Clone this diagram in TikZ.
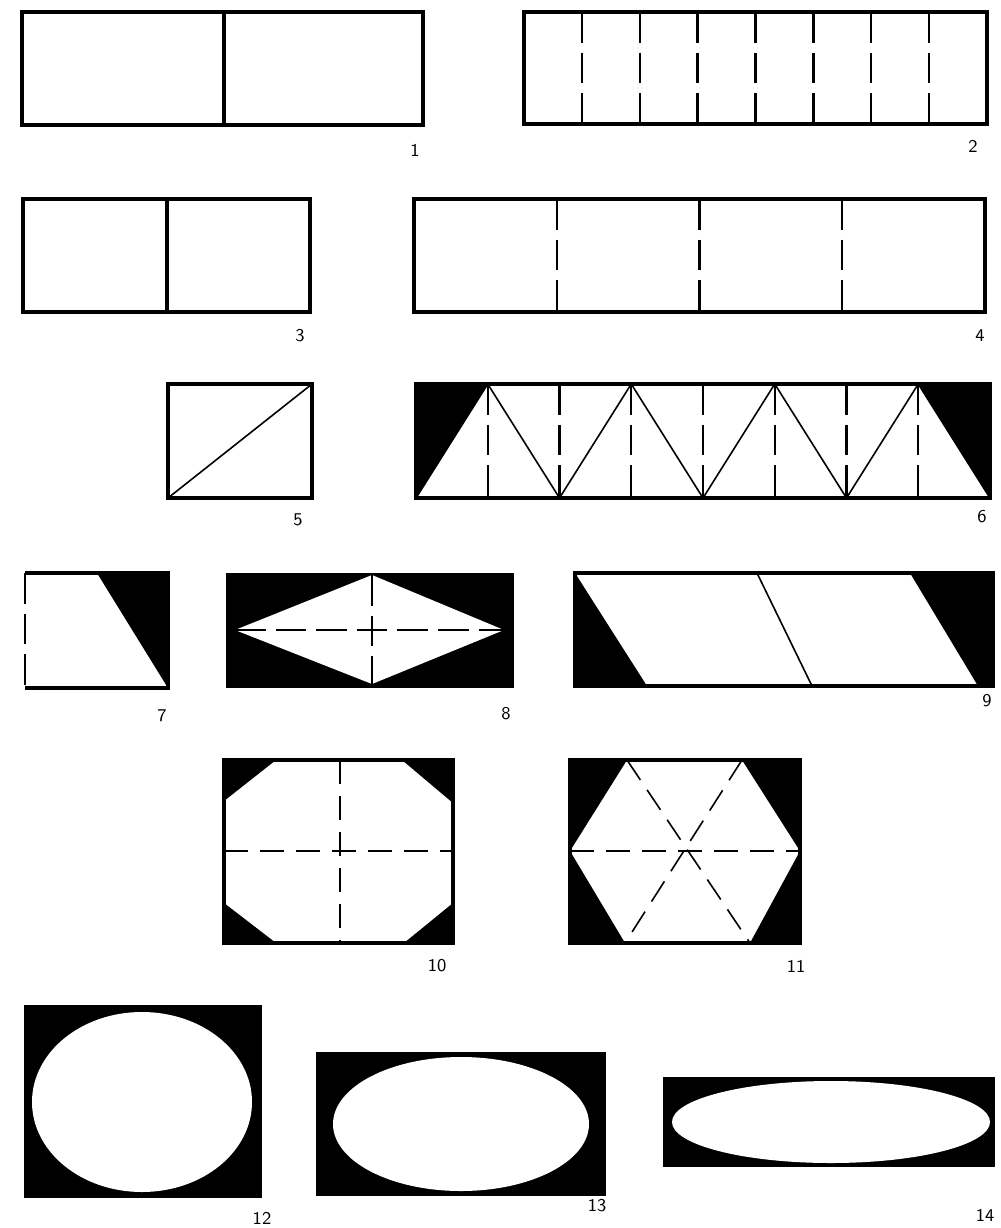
\documentclass[tikz,border=0pt]{standalone}
\usepackage{tikz}
\usetikzlibrary{positioning}

\begin{document}
\begin{tikzpicture}[x=0.5pt, y=-0.5pt,
    frame/.style={line width=1.7pt, line join=miter},
    cut/.style={line width=0.8pt},
    fold/.style={line width=1.2pt, dash pattern=on 15.3pt off 5pt},
    foldthin/.style={line width=0.8pt, dash pattern=on 12pt off 6pt},
    num/.style={font=\sffamily\fontsize{9}{10}\selectfont, inner sep=0pt}]
  \useasboundingbox (0,0) rectangle (1001,1228);

  % 1
  \draw[frame] (22,12) rectangle (423,125);
  \draw[frame] (224,12) -- (224,125);
  \node[num] (n1) at (415,150) {1};

  % 2
  \draw[frame] (524,12) rectangle (987,124);
  \foreach \i in {1,...,7}
    \draw[fold] ({524+57.875*\i},12) -- ({524+57.875*\i},124);
  \node[num] (n2) at (973,146) {2};

  % 3
  \draw[frame] (23,199) rectangle (310,312);
  \draw[frame] (167,199) -- (167,312);
  \node[num] (n3) at (300,336) {3};

  % 4
  \draw[frame] (414,199) rectangle (985,312);
  \foreach \i in {1,2,3}
    \draw[fold] ({414+142.75*\i},199) -- ({414+142.75*\i},312);
  \node[num] (n4) at (980,336) {4};

  % 5
  \draw[frame] (168,384) rectangle (312,498);
  \draw[cut] (168,498) -- (312,384);
  \node[num] (n5) at (298,520) {5};

  % 6
  \fill (416,384) -- (487.75,384) -- (416,498) -- cycle;
  \fill (918.25,384) -- (990,384) -- (990,498) -- cycle;
  \foreach \i in {1,...,7}
    \draw[fold] ({416+71.75*\i},384) -- ({416+71.75*\i},498);
  \draw[cut] (416,498) -- (487.75,384) -- (559.5,498) -- (631.25,384)
    -- (703,498) -- (774.75,384) -- (846.5,498) -- (918.25,384) -- (990,498);
  \draw[frame] (416,384) rectangle (990,498);
  \node[num] (n6) at (982,517) {6};

  % 7
  \fill (97,573) -- (168,573) -- (168,688) -- cycle;
  \draw[frame] (25,573) -- (168,573) -- (168,688) -- (25,688);
  \draw[fold] (25,573) -- (25,688);
  \node[num] (n7) at (162,716) {7};

  % 8
  \fill (226,573) rectangle (514,688);
  \fill[white] (235,630) -- (372,575) -- (504,630) -- (372,684) -- cycle;
  \draw[fold] (235,630) -- (504,630);
  \draw[fold] (372,575) -- (372,684);
  \node[num] (n8) at (506,714) {8};

  % 9
  \fill (575,573) -- (647,686) -- (575,686) -- cycle;
  \fill (910,573) -- (993,573) -- (993,686) -- (978,686) -- cycle;
  \draw[cut] (757,573) -- (812,686);
  \draw[frame] (575,573) rectangle (993,686);
  \node[num] (n9) at (987,701) {9};

  % 10
  \fill (224,760) -- (276,760) -- (224,801) -- cycle;
  \fill (453,760) -- (402,760) -- (453,803) -- cycle;
  \fill (224,943) -- (276,943) -- (224,903) -- cycle;
  \fill (453,943) -- (404,943) -- (453,903) -- cycle;
  \draw[frame] (224,760) rectangle (453,943);
  \draw[foldthin] (340,760) -- (340,943);
  \draw[foldthin] (224,851) -- (453,851);
  \node[num] (n10) at (437,966) {10};

  % 11
  \fill (570,760) -- (627,760) -- (570,851) -- cycle;
  \fill (800,760) -- (742,760) -- (800,851) -- cycle;
  \fill (570,943) -- (625,943) -- (570,851) -- cycle;
  \fill (800,943) -- (750,943) -- (800,851) -- cycle;
  \draw[frame] (570,760) rectangle (800,943);
  \draw[foldthin] (570,851) -- (800,851);
  \draw[foldthin] (627,760) -- (750,943);
  \draw[foldthin] (742,760) -- (625,943);
  \node[num] (n11) at (796,966) {11};

  % 12
  \fill (24,1005) rectangle (262,1198);
  \fill[white] (142,1102) ellipse [x radius=110, y radius=90];
  \node[num] (n12) at (262,1218) {12};

  % 13
  \fill (316,1052) rectangle (606,1196);
  \fill[white] (461,1124) ellipse [x radius=128, y radius=67];
  \node[num] (n13) at (597,1206) {13};

  % 14
  \fill (663,1077) rectangle (995,1167);
  \fill[white] (831,1122) ellipse [x radius=159, y radius=41];
  \node[num] (n14) at (985,1215) {14};
\end{tikzpicture}
\end{document}
